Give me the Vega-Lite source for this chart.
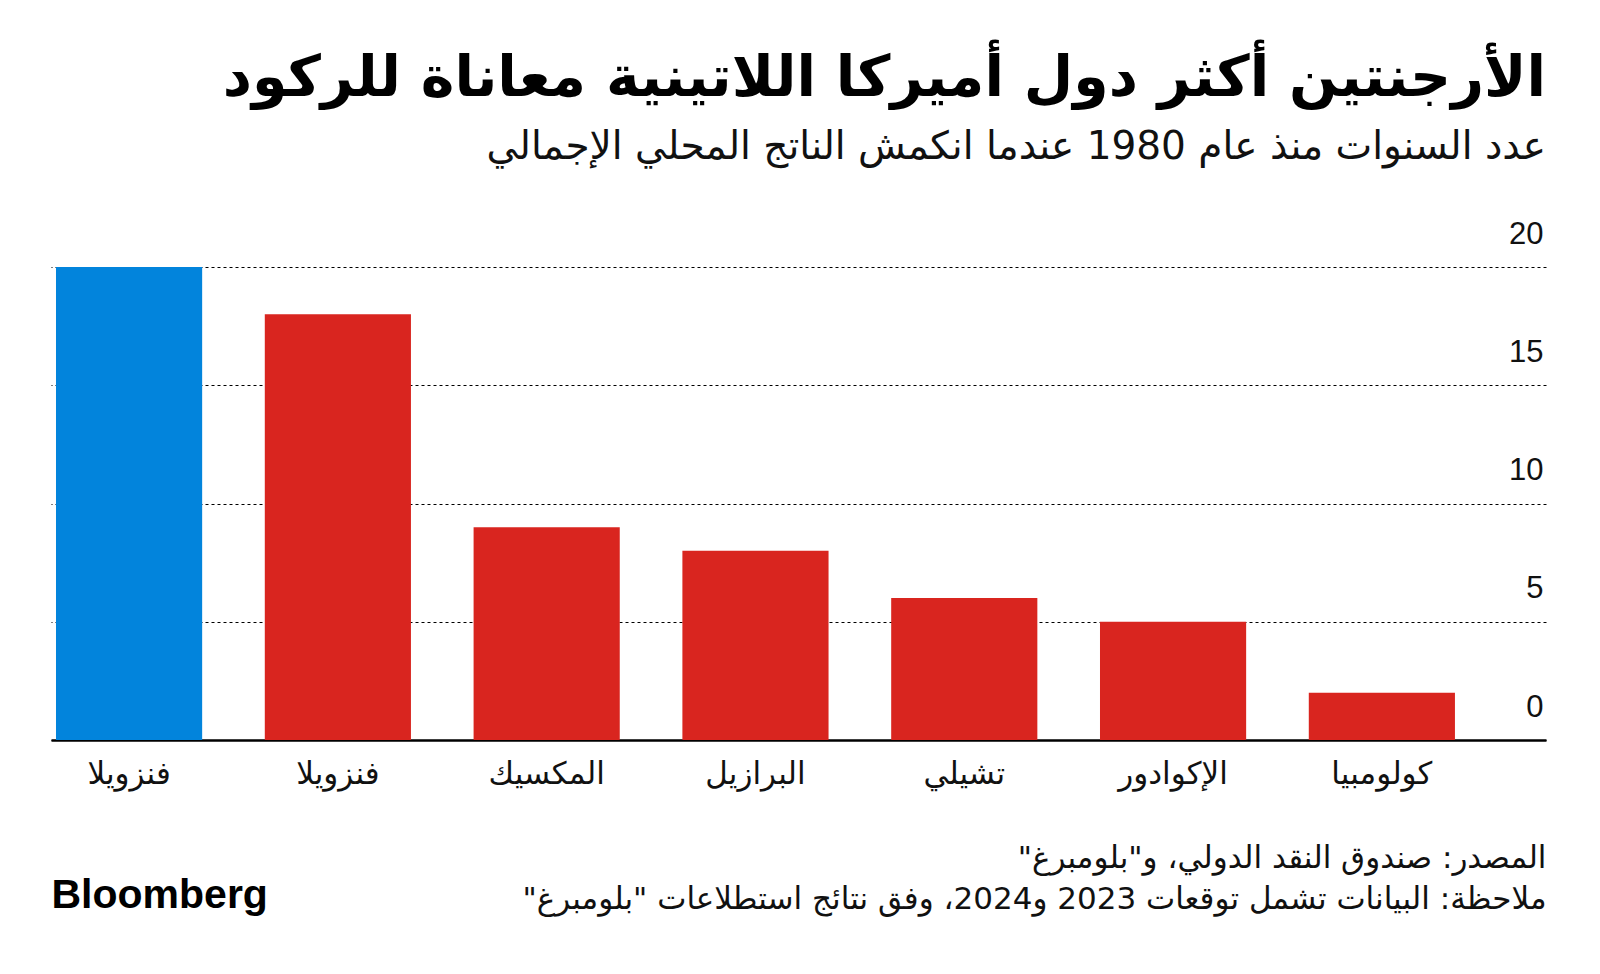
{
  "$schema": "https://vega.github.io/schema/vega-lite/v6.json",
  "autosize": {"type": "none"},
  "width": 1495,
  "height": 473,
  "padding": {"left": 51, "top": 267, "right": 54, "bottom": 234},
  "background": "white",
  "title": {
    "text": "الأرجنتين أكثر دول أميركا اللاتينية معاناة للركود",
    "subtitle": "عدد السنوات منذ عام 1980 عندما انكمش الناتج المحلي الإجمالي",
    "anchor": "end",
    "frame": "group",
    "font": "DejaVu Sans",
    "fontSize": 57,
    "fontWeight": "bold",
    "color": "#000000",
    "subtitleFont": "DejaVu Sans",
    "subtitleFontSize": 39,
    "subtitleColor": "#111111",
    "subtitlePadding": 20,
    "offset": 50
  },
  "data": {
    "values": [
      {"key": "الأرجنتين", "years": 20},
      {"key": "فنزويلا", "years": 18},
      {"key": "المكسيك", "years": 9},
      {"key": "البرازيل", "years": 8},
      {"key": "تشيلي", "years": 6},
      {"key": "الإكوادور", "years": 5},
      {"key": "كولومبيا", "years": 2}
    ]
  },
  "mark": {"type": "bar"},
  "encoding": {
    "x": {
      "field": "key",
      "type": "nominal",
      "sort": null,
      "scale": {"paddingInner": 0.3, "paddingOuter": 0.23, "align": 0.052},
      "axis": {
        "labelExpr": "datum.value == 'الأرجنتين' ? 'فنزويلا' : datum.value",
        "labelAngle": 0,
        "labelFont": "DejaVu Sans",
        "labelFontSize": 31,
        "labelColor": "#111111",
        "labelPadding": 19,
        "labelBaseline": "top",
        "ticks": false,
        "domain": true,
        "domainColor": "#000000",
        "domainWidth": 2.5,
        "grid": false,
        "title": ["المصدر: صندوق النقد الدولي، و\"بلومبرغ\"‏", "ملاحظة: البيانات تشمل توقعات 2023 و2024، وفق نتائج استطلاعات \"بلومبرغ\"‏"],
        "titleAnchor": "end",
        "titleAlign": "right",
        "titleBaseline": "top",
        "titleFont": "DejaVu Sans",
        "titleFontSize": 31,
        "titleFontWeight": "normal",
        "titleColor": "#111111",
        "titleLineHeight": 41,
        "titlePadding": 54
      }
    },
    "y": {
      "field": "years",
      "type": "quantitative",
      "scale": {"domain": [0, 20], "nice": false, "zero": true},
      "axis": {
        "orient": "right",
        "values": [0, 5, 10, 15, 20],
        "grid": true,
        "gridColor": "#000000",
        "gridDash": [3, 3],
        "gridWidth": 1,
        "ticks": false,
        "domain": false,
        "labelAlign": "right",
        "labelBaseline": "alphabetic",
        "labelPadding": -3,
        "labelOffset": -24,
        "labelFlush": false,
        "labelOverlap": false,
        "labelFont": "Liberation Sans",
        "labelFontSize": 31,
        "labelColor": "#111111",
        "title": "Bloomberg",
        "titleAngle": 0,
        "titleAlign": "left",
        "titleBaseline": "alphabetic",
        "titleX": -1495,
        "titleY": 640,
        "titleFont": "Liberation Sans",
        "titleFontSize": 41,
        "titleFontWeight": "bold",
        "titleColor": "#000000"
      }
    },
    "color": {
      "condition": {"test": "datum.key === 'الأرجنتين'", "value": "#0284dc"},
      "value": "#d9251f"
    }
  },
  "config": {
    "view": {"stroke": null}
  }
}
